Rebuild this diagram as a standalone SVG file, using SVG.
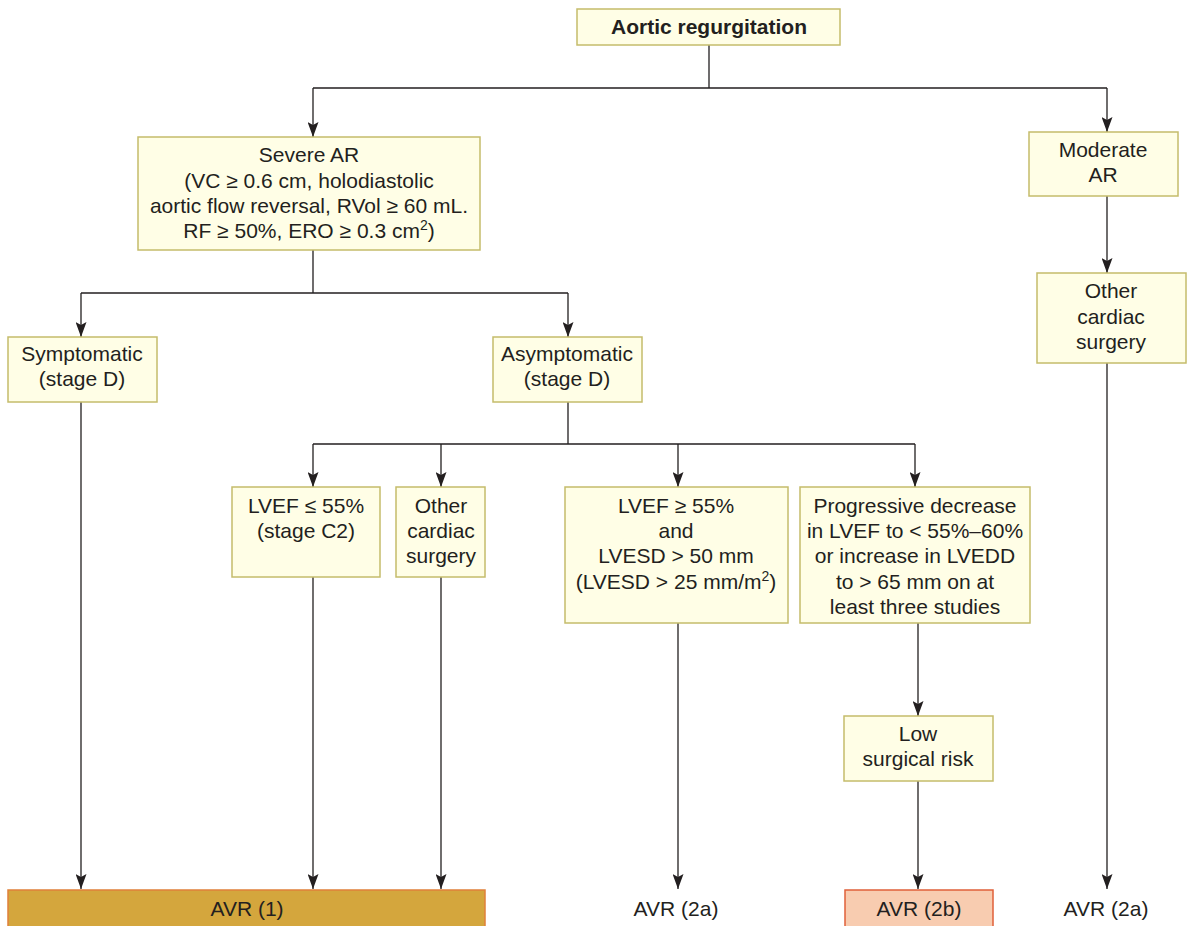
<svg xmlns="http://www.w3.org/2000/svg" width="1189" height="926" viewBox="0 0 1189 926">
<style>
.box{fill:#FFFEE6;stroke:#C5BC6B;stroke-width:1.5}
.t{font-family:"Liberation Sans",Arial,sans-serif;font-size:21px;fill:#231F20;text-anchor:middle}
.b{font-weight:bold}
.c{fill:none;stroke:#231F20;stroke-width:1.3}
</style>
<defs>
<marker id="ah" markerUnits="userSpaceOnUse" markerWidth="11" markerHeight="15" viewBox="0 0 11 15" refX="5.5" refY="15" orient="0">
<path d="M0,0 L5.5,3 L11,0 L5.5,15 Z" fill="#231F20"/>
</marker>
</defs>
<rect width="1189" height="926" fill="#fff"/>
<g id="connectors" class="c">
<path d="M709,45 V88 M313,88 H1107"/>
<path d="M313,88 V137" marker-end="url(#ah)"/>
<path d="M1107,88 V132" marker-end="url(#ah)"/>
<path d="M313,250 V293 M81,293 H568"/>
<path d="M81,293 V337" marker-end="url(#ah)"/>
<path d="M568,293 V337" marker-end="url(#ah)"/>
<path d="M568,402 V444 M313,444 H915"/>
<path d="M313,444 V487" marker-end="url(#ah)"/>
<path d="M441,444 V487" marker-end="url(#ah)"/>
<path d="M678,444 V487" marker-end="url(#ah)"/>
<path d="M915,444 V487" marker-end="url(#ah)"/>
<path d="M81,402 V889" marker-end="url(#ah)"/>
<path d="M313,577 V889" marker-end="url(#ah)"/>
<path d="M441,577 V889" marker-end="url(#ah)"/>
<path d="M678,623 V889" marker-end="url(#ah)"/>
<path d="M918,623 V716" marker-end="url(#ah)"/>
<path d="M918,781 V889" marker-end="url(#ah)"/>
<path d="M1107,196 V273" marker-end="url(#ah)"/>
<path d="M1107,363 V889" marker-end="url(#ah)"/>
</g>
<g id="n-aortic">
<rect class="box" x="577" y="9" width="263" height="36"/>
<text class="t b" x="709" y="34">Aortic regurgitation</text>
</g>
<g id="n-severe">
<rect class="box" x="138" y="137" width="342" height="113"/>
<text class="t" x="309" y="162">Severe AR</text>
<text class="t" x="309" y="188">(VC ≥ 0.6 cm, holodiastolic</text>
<text class="t" x="309" y="213">aortic flow reversal, RVol ≥ 60 mL.</text>
<text class="t" x="309" y="238">RF ≥ 50%, ERO ≥ 0.3 cm<tspan dy="-8" font-size="14">2</tspan><tspan dy="8">)</tspan></text>
</g>
<g id="n-moderate">
<rect class="box" x="1029" y="132" width="149" height="64"/>
<text class="t" x="1103" y="157">Moderate</text>
<text class="t" x="1103" y="182">AR</text>
</g>
<g id="n-symptomatic">
<rect class="box" x="8" y="337" width="149" height="65"/>
<text class="t" x="82" y="361">Symptomatic</text>
<text class="t" x="82" y="386">(stage D)</text>
</g>
<g id="n-asymptomatic">
<rect class="box" x="493" y="337" width="149" height="65"/>
<text class="t" x="567" y="361">Asymptomatic</text>
<text class="t" x="567" y="386">(stage D)</text>
</g>
<g id="n-other-right">
<rect class="box" x="1037" y="273" width="149" height="90"/>
<text class="t" x="1111" y="298">Other</text>
<text class="t" x="1111" y="324">cardiac</text>
<text class="t" x="1111" y="349">surgery</text>
</g>
<g id="n-lvef-c2">
<rect class="box" x="232" y="487" width="148" height="90"/>
<text class="t" x="306" y="513">LVEF ≤ 55%</text>
<text class="t" x="306" y="538">(stage C2)</text>
</g>
<g id="n-other-mid">
<rect class="box" x="396" y="487" width="89" height="90"/>
<text class="t" x="441" y="513">Other</text>
<text class="t" x="441" y="538">cardiac</text>
<text class="t" x="441" y="563">surgery</text>
</g>
<g id="n-lvesd">
<rect class="box" x="565" y="487" width="223" height="136"/>
<text class="t" x="676" y="513">LVEF ≥ 55%</text>
<text class="t" x="676" y="538">and</text>
<text class="t" x="676" y="563">LVESD &gt; 50 mm</text>
<text class="t" x="676" y="589">(LVESD &gt; 25 mm/m<tspan dy="-8" font-size="14">2</tspan><tspan dy="8">)</tspan></text>
</g>
<g id="n-progressive">
<rect class="box" x="800" y="487" width="230" height="136"/>
<text class="t" x="915" y="513">Progressive decrease</text>
<text class="t" x="915" y="538">in LVEF to &lt; 55%–60%</text>
<text class="t" x="915" y="563">or increase in LVEDD</text>
<text class="t" x="915" y="589">to &gt; 65 mm on at</text>
<text class="t" x="915" y="614">least three studies</text>
</g>
<g id="n-lowrisk">
<rect class="box" x="844" y="716" width="149" height="65"/>
<text class="t" x="918" y="741">Low</text>
<text class="t" x="918" y="766">surgical risk</text>
</g>
<g id="n-avr1">
<rect x="8" y="890" width="477" height="45" fill="#D4A63D" stroke="#E0803A" stroke-width="1.5"/>
<text class="t" x="247" y="916">AVR (1)</text>
</g>
<g id="n-avr2a-mid">
<text class="t" x="676" y="916">AVR (2a)</text>
</g>
<g id="n-avr2b">
<rect x="845" y="890" width="148" height="45" fill="#F8CCB0" stroke="#E0603A" stroke-width="1.5"/>
<text class="t" x="919" y="916">AVR (2b)</text>
</g>
<g id="n-avr2a-right">
<text class="t" x="1106" y="916">AVR (2a)</text>
</g>
</svg>
